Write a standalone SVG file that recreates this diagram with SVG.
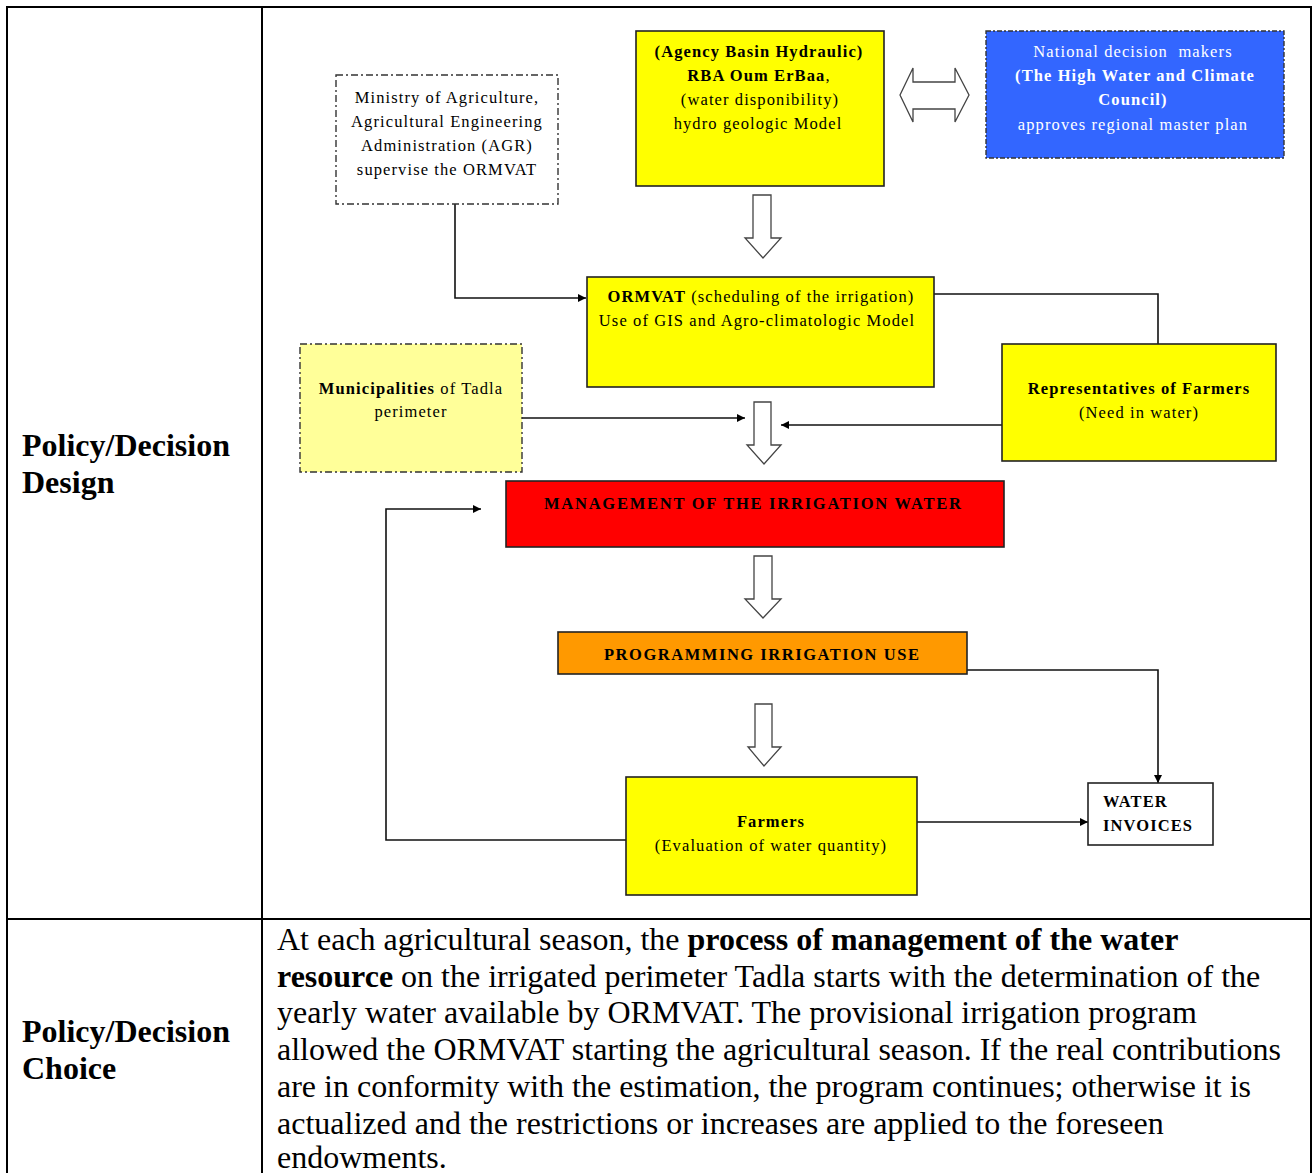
<svg xmlns="http://www.w3.org/2000/svg" width="1312" height="1173" viewBox="0 0 1312 1173">
<style>
.t{font-family:"Liberation Serif","Times New Roman",serif;font-size:16.5px;letter-spacing:1.1px;text-anchor:middle;fill:#000}
.w{fill:#fff}
.b{font-weight:bold}
.box{stroke:#222;stroke-width:1.6}
.dd{stroke:#333;stroke-width:1.4;stroke-dasharray:7 3 2 3}
.hol{fill:#fff;stroke:#444;stroke-width:1.3}
.con{fill:none;stroke:#111;stroke-width:1.6}
.big{font-family:"Liberation Serif","Times New Roman",serif;font-size:32px;fill:#000}
.grid{stroke:#000;stroke-width:2;fill:none}
</style>
<defs>
<marker id="ah" viewBox="0 0 10 10" refX="10" refY="5" markerWidth="8" markerHeight="8" orient="auto" markerUnits="userSpaceOnUse">
<path d="M0,0 L10,5 L0,10 Z" fill="#000"/>
</marker>
</defs>
<rect width="1312" height="1173" fill="#fff"/>
<g id="table">
<line class="grid" x1="6" y1="7" x2="1312" y2="7"/>
<line class="grid" x1="7" y1="6" x2="7" y2="1173"/>
<line class="grid" x1="262" y1="6" x2="262" y2="1173"/>
<line class="grid" x1="1311" y1="6" x2="1311" y2="1173"/>
<line class="grid" x1="6" y1="919" x2="1312" y2="919"/>
</g>
<g id="label-design">
<text class="big" font-weight="bold" x="22" y="456">Policy/Decision</text>
<text class="big" font-weight="bold" x="22" y="493">Design</text>
</g>
<g id="label-choice">
<text class="big" font-weight="bold" x="22" y="1042">Policy/Decision</text>
<text class="big" font-weight="bold" x="22" y="1079">Choice</text>
</g>
<g id="paragraph">
<text class="big" x="277" y="950">At each agricultural season, the <tspan font-weight="bold">process of management of the water</tspan></text>
<text class="big" x="277" y="987"><tspan font-weight="bold">resource</tspan> on the irrigated perimeter Tadla starts with the determination of the</text>
<text class="big" x="277" y="1023">yearly water available by ORMVAT. The provisional irrigation program</text>
<text class="big" x="277" y="1060">allowed the ORMVAT starting the agricultural season. If the real contributions</text>
<text class="big" x="277" y="1097">are in conformity with the estimation, the program continues; otherwise it is</text>
<text class="big" x="277" y="1134">actualized and the restrictions or increases are applied to the foreseen</text>
<text class="big" x="277" y="1168">endowments.</text>
</g>
<g id="connectors">
<polyline class="con" points="455,204 455,298 586,298" marker-end="url(#ah)"/>
<polyline class="con" points="934,294 1158,294 1158,344"/>
<line class="con" x1="522" y1="418" x2="745" y2="418" marker-end="url(#ah)"/>
<line class="con" x1="1002" y1="425" x2="781" y2="425" marker-end="url(#ah)"/>
<polyline class="con" points="626,840 386,840 386,509 481,509" marker-end="url(#ah)"/>
<polyline class="con" points="967,670 1158,670 1158,783" marker-end="url(#ah)"/>
<line class="con" x1="917" y1="822" x2="1088" y2="822" marker-end="url(#ah)"/>
<polygon class="hol" points="900,95 913,68 913,82 955,82 955,68 969,95 955,122 955,109 913,109 913,122"/>
<polygon class="hol" points="753,195 771,195 771,238 781,238 763,258 745,238 753,238"/>
<polygon class="hol" points="754,402 771,402 771,445 781,445 764,464 747,445 754,445"/>
<polygon class="hol" points="754,556 772,556 772,599 781,599 763,618 745,599 754,599"/>
<polygon class="hol" points="755,704 772,704 772,747 781,747 764,766 748,747 755,747"/>
</g>
<g id="ministry">
<rect class="dd" x="336" y="75" width="222" height="129" fill="#fff"/>
<text class="t" x="447" y="103">Ministry of Agriculture,</text>
<text class="t" x="447" y="127">Agricultural Engineering</text>
<text class="t" x="447" y="151">Administration (AGR)</text>
<text class="t" x="447" y="175">supervise the ORMVAT</text>
</g>
<g id="agency">
<rect class="box" x="636" y="31" width="248" height="155" fill="#ffff00"/>
<text class="t b" x="759" y="57">(Agency Basin Hydraulic)</text>
<text class="t" x="759" y="81"><tspan class="b">RBA Oum ErBaa</tspan>,</text>
<text class="t" x="760" y="105">(water disponibility)</text>
<text class="t" x="758" y="129">hydro geologic Model</text>
</g>
<g id="national">
<rect x="986" y="31" width="298" height="127" fill="#3366ff" stroke="#333" stroke-width="1.4" stroke-dasharray="5 2 2 2"/>
<text class="t w" x="1133" y="57" style="white-space:pre">National decision  makers</text>
<text class="t w b" x="1135" y="81">(The High Water and Climate</text>
<text class="t w b" x="1133" y="105">Council)</text>
<text class="t w" x="1133" y="130">approves regional master plan</text>
</g>
<g id="ormvat">
<rect class="box" x="587" y="277" width="347" height="110" fill="#ffff00"/>
<text class="t" x="761" y="302"><tspan class="b">ORMVAT</tspan> (scheduling of the irrigation)</text>
<text class="t" x="757" y="326">Use of GIS and Agro-climatologic Model</text>
</g>
<g id="municipalities">
<rect class="dd" x="300" y="344" width="222" height="128" fill="#ffff99"/>
<text class="t" x="411" y="394"><tspan class="b">Municipalities</tspan> of Tadla</text>
<text class="t" x="411" y="417">perimeter</text>
</g>
<g id="representatives">
<rect class="box" x="1002" y="344" width="274" height="117" fill="#ffff00"/>
<text class="t b" x="1139" y="394">Representatives of Farmers</text>
<text class="t" x="1139" y="418">(Need in water)</text>
</g>
<g id="management">
<rect class="box" x="506" y="481" width="498" height="66" fill="#ff0000"/>
<text class="t b" x="753" y="509" textLength="418" lengthAdjust="spacing">MANAGEMENT OF THE IRRIGATION WATER</text>
</g>
<g id="programming">
<rect class="box" x="558" y="632" width="409" height="42" fill="#ff9900"/>
<text class="t b" x="762" y="660" textLength="316" lengthAdjust="spacing">PROGRAMMING IRRIGATION USE</text>
</g>
<g id="farmers">
<rect class="box" x="626" y="777" width="291" height="118" fill="#ffff00"/>
<text class="t b" x="771" y="827">Farmers</text>
<text class="t" x="771" y="851">(Evaluation of water quantity)</text>
</g>
<g id="invoices">
<rect class="box" x="1088" y="783" width="125" height="62" fill="#fff"/>
<text class="t b" x="1103" y="807" style="text-anchor:start">WATER</text>
<text class="t b" x="1103" y="831" style="text-anchor:start">INVOICES</text>
</g>
</svg>
